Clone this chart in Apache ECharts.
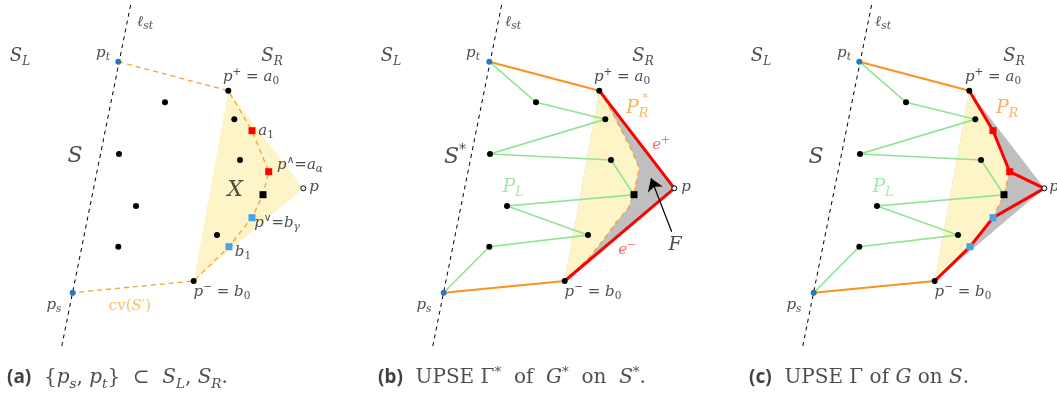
<!DOCTYPE html>
<html><head><meta charset="utf-8">
<script src="https://cdn.jsdelivr.net/npm/echarts@6/dist/echarts.min.js"></script>
<style>html,body{margin:0;padding:0;background:#fff}#c{width:1057px;height:397px}</style>
</head><body><div id="c"></div>
<script>
// ---- geometry (panel-local coordinates, identical in the three panels) ----
const lineST = [[130.6,5],[61,350]];
const pT = [118.3,61.7];
const pS = [72.7,292.7];
const pPlus = [228.3,90.7];
const pMinus = [193.7,281];
const pApex = [303.3,188.3];
const aSquares = [[252,130.7],[268.7,171.7]];
const bSquares = [[252,217.7],[229,246.7]];
const midSquare = [[263,194.7]];
const innerDots = [[165,102.3],[234.3,119.3],[240,160],[217,235]];
const leftDots = [[119,154],[136,206],[118.3,246.7]];
const hullA = [[118.3,61.7],[228.3,90.7],[252,130.7],[268.7,171.7],[263,194.7],[252,217.7],[229,246.7],[193.7,281],[72.7,292.7]];
const greenPath = [[118.3,61.7],[165,102.3],[234.3,119.3],[119,154],[240,160],[263,194.7],[136,206],[217,235],[118.3,246.7],[72.7,292.7]];
const curveRStar = [[228.3,90.7],[239,108.3],[259,146.7],[268.3,168.3],[262.3,195],[257.3,208.3],[245.7,221.7],[232.3,240],[219,256.7],[193.7,281]];
const hullC = [[228.3,90.7],[252,130.7],[268.7,171.7],[263,194.7],[252,217.7],[229,246.7],[193.7,281]];
const dashC = [[268.7,171.7],[263,194.7],[252,217.7]];
const redPathB = [[228.3,90.7],[303.3,188.3],[193.7,281]];
const redPathC = [[228.3,90.7],[252,130.7],[268.7,171.7],[303.3,188.3],[252,217.7],[229,246.7],[193.7,281]];
const arrowF = [[300.7,231.7],[280,178.3]];

// ---- texts ----
const labelsA = [
  ['{i|ℓ}{sub|st}',145,22],['{m|S}{msub|L}',20,56],['{m|S}{msub|R}',272,56],
  ['{i|p}{sub|t}',103,53],['{i|p}{sup|+}{r| = }{i|a}{subr|0}',251,77],
  ['{i|a}{subr|1}',266,131],['{i|p}{sup|∧}{r|=}{i|a}{sub|α}',300,165],['{i|p}',314,187],
  ['{L|X}',235,190],['{i|p}{sup|∨}{r|=}{i|b}{sub|γ}',277,223],['{i|b}{subr|1}',243,252],
  ['{i|p}{sup|−}{r| = }{i|b}{subr|0}',222,292],['{i|p}{sub|s}',54,305],['{L|S}',75,156]
];
const orangeA = [['{r|cv(}{i|S}{r|′)}',130,306]];
const labelsB = [
  ['{i|ℓ}{sub|st}',142,22],['{m|S}{msub|L}',20,56],['{m|S}{msub|R}',272,56],
  ['{i|p}{sub|t}',102,53],['{i|p}{sup|+}{r| = }{i|a}{subr|0}',251,77],
  ['{L|S}{Lsup|*}',84,157],['{i|p}',315,187],['{P|F}',304,245],
  ['{i|p}{sup|−}{r| = }{i|b}{subr|0}',222,292],['{i|p}{sub|s}',53,305]
];
const orangeB = [['{P|P}{Psub|R}',266,108],['{sup|*}',274,98]];
const redB = [['{i|e}{sup|+}',290,145],['{i|e}{sup|−}',256,250]];
const greenB = [['{P|P}{Psub|L}',142,187]];
const labelsC = [
  ['{i|ℓ}{sub|st}',142,22],['{m|S}{msub|L}',20,56],['{m|S}{msub|R}',273,56],
  ['{i|p}{sub|t}',103,53],['{i|p}{sup|+}{r| = }{i|a}{subr|0}',252,77],
  ['{L|S}',75,157],['{i|p}',313,187],
  ['{i|p}{sup|−}{r| = }{i|b}{subr|0}',222,292],['{i|p}{sub|s}',53,305]
];
const orangeC = [['{P|P}{Psub|R}',266,108]];
const greenC = [['{P|P}{Psub|L}',142,187]];
const captions = [
  '{b|(a)}  {{ci|p}{csub|s}, {ci|p}{csub|t}}  ⊂  {ci|S}{csub|L}, {ci|S}{csub|R}.',
  '{b|(b)}  UPSE Γ{csup|*}  of  {ci|G}{csup|*}  on  {ci|S}{csup|*}.',
  '{b|(c)}  UPSE Γ of {ci|G} on {ci|S}.'
];
const captionPos = [[7,378],[7,378],[8,378]];

// ---- styles ----
const SERIF = '"DejaVu Serif","Liberation Serif",serif';
const rich = {
  i:{fontFamily:SERIF,fontStyle:'italic',fontSize:15,lineHeight:20,verticalAlign:'middle'},
  r:{fontFamily:SERIF,fontSize:15,lineHeight:20,verticalAlign:'middle'},
  sub:{fontFamily:SERIF,fontStyle:'italic',fontSize:10.5,lineHeight:11,verticalAlign:'bottom'},
  subr:{fontFamily:SERIF,fontSize:10.5,lineHeight:11,verticalAlign:'bottom'},
  sup:{fontFamily:SERIF,fontSize:10.5,lineHeight:11,verticalAlign:'top'},
  m:{fontFamily:SERIF,fontStyle:'italic',fontSize:18,lineHeight:24,verticalAlign:'middle'},
  msub:{fontFamily:SERIF,fontStyle:'italic',fontSize:12,lineHeight:13,verticalAlign:'bottom'},
  L:{fontFamily:SERIF,fontStyle:'italic',fontSize:22,lineHeight:28,verticalAlign:'middle'},
  Lsup:{fontFamily:SERIF,fontSize:14,lineHeight:14,verticalAlign:'top'},
  P:{fontFamily:SERIF,fontStyle:'italic',fontSize:19,lineHeight:24,verticalAlign:'middle'},
  Psub:{fontFamily:SERIF,fontStyle:'italic',fontSize:12.5,lineHeight:13,verticalAlign:'bottom'},
  ci:{fontFamily:SERIF,fontStyle:'italic',fontSize:20,lineHeight:26,verticalAlign:'middle'},
  csub:{fontFamily:SERIF,fontStyle:'italic',fontSize:13.5,lineHeight:13,verticalAlign:'bottom'},
  csup:{fontFamily:SERIF,fontSize:13.5,lineHeight:13,verticalAlign:'top'},
  b:{fontFamily:'"Noto Sans","DejaVu Sans",sans-serif',fontWeight:'bold',fontSize:19,lineHeight:26,verticalAlign:'middle',color:'#111'}
};
const YEL='#fdf4c8', GRAY='#bfbfbf', ORA='#f7931e', ORAD='#f7a035', GRN='#8fe48f', RED='#ff0000',
      BLUE='#2a78b8', LBLUE='#47a3e6', INK='#222';

const series = [];
function poly(pts, color, gi, z){
  series.push({type:'custom',xAxisIndex:gi,yAxisIndex:gi,data:[pts[0]],silent:true,z:z,clip:false,
    renderItem:(params,api)=>({type:'polygon',shape:{points:pts.map(p=>api.coord(p))},style:{fill:color}})});
}
function line(pts,color,width,type,gi,z){
  series.push({type:'line',xAxisIndex:gi,yAxisIndex:gi,data:pts,symbol:'none',silent:true,z:z,
    lineStyle:{color:color,width:width,type:type,cap:'butt',join:'miter'}});
}
function dots(pts,symbol,size,color,gi,z,border){
  series.push({type:'scatter',xAxisIndex:gi,yAxisIndex:gi,data:pts,symbol:symbol,symbolSize:size,silent:true,z:z,
    itemStyle:{color:color,opacity:1,borderColor:border||color,borderWidth:border?1:0}});
}
function labels(list,color,gi,align,base){
  series.push({type:'scatter',xAxisIndex:gi,yAxisIndex:gi,symbolSize:0,silent:true,z:10,
    data:list.map(l=>({value:[l[1],l[2]],label:{formatter:l[0]}})),
    label:{show:true,position:[0,0],align:align||'center',verticalAlign:'middle',color:color,
      fontFamily:SERIF,fontSize:base||16,lineHeight:base?26:20,rich:rich}});
}
function panelPoints(gi, withSquares){
  dots(innerDots.concat(leftDots,[pPlus,pMinus]),'circle',6,'#000',gi,6);
  if(withSquares){
    dots(aSquares,'rect',7,RED,gi,7);
    dots(bSquares,'rect',7,LBLUE,gi,7);
  }
  dots(midSquare,'rect',7,'#000',gi,7);
  dots([pT,pS],'circle',6,BLUE,gi,7);
  dots([pApex],'circle',5,'#fff',gi,8,'#000');
}

// panel (a)
poly([pPlus,pApex,pMinus],YEL,0,1);
line(lineST,'#000',1,[4,4],0,2);
line(hullA,ORAD,1.3,[5,4],0,3);
panelPoints(0,true);
labels(labelsA,INK,0); labels(orangeA,'#f5b041',0);
// panel (b)
poly([pPlus,pApex,pMinus],GRAY,1,1);
poly(curveRStar,YEL,1,1.5);
line(curveRStar,ORAD,1.3,[5,4],1,3);
line(lineST,'#000',1,[4,4],1,2);
line(greenPath,GRN,1.6,'solid',1,3);
line([pT,pPlus],ORA,2,'solid',1,3);
line([pS,pMinus],ORA,2,'solid',1,3);
line(redPathB,RED,3,'solid',1,4);
series.push({type:'lines',coordinateSystem:'cartesian2d',xAxisIndex:1,yAxisIndex:1,silent:true,z:5,
  data:[{coords:arrowF}],symbol:['none','arrow'],symbolSize:[8,12],lineStyle:{color:'#000',width:1.2,opacity:1}});
panelPoints(1,false);
labels(labelsB,INK,1); labels(orangeB,'#f7a035',1); labels(redB,'#ff4040',1); labels(greenB,'#8fe48f',1);
// panel (c)
poly([pPlus,pApex,pMinus],GRAY,2,1);
poly(hullC,YEL,2,1.5);
line(dashC,ORAD,1.3,[5,4],2,3);
line(lineST,'#000',1,[4,4],2,2);
line(greenPath,GRN,1.6,'solid',2,3);
line([pT,pPlus],ORA,2,'solid',2,3);
line([pS,pMinus],ORA,2,'solid',2,3);
line(redPathC,RED,3,'solid',2,4);
panelPoints(2,true);
labels(labelsC,INK,2); labels(orangeC,'#f7a035',2); labels(greenC,'#8fe48f',2);
// captions
captions.forEach((c,gi)=>labels([[c,captionPos[gi][0],captionPos[gi][1]]],INK,gi,'left',20));

const grids=[{left:0,width:357},{left:371,width:357},{left:741,width:316}];
const chart = echarts.init(document.getElementById('c'));
chart.setOption({
  animation:false,
  grid:grids.map(g=>({left:g.left,width:g.width,top:0,height:397})),
  xAxis:grids.map((g,i)=>({type:'value',gridIndex:i,min:0,max:g.width,show:false})),
  yAxis:grids.map((g,i)=>({type:'value',gridIndex:i,min:0,max:397,inverse:true,show:false})),
  series:series
});
</script></body></html>
